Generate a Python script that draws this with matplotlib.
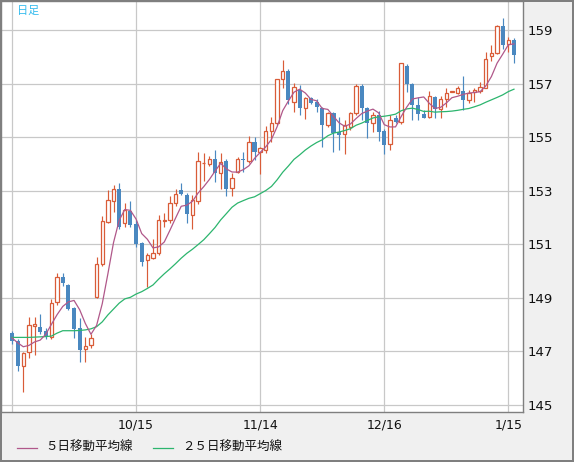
import numpy as np
import pandas as pd
import matplotlib
matplotlib.use('Agg')
import matplotlib.pyplot as plt
from matplotlib.lines import Line2D

plt.rcParams['font.family'] = ['Noto Sans CJK JP', 'DejaVu Sans']

# daily candles, 2025-09-15 .. 2026-01-16 (weekdays)
opens = [147.70, 147.40, 146.45, 146.97, 147.96, 147.90, 147.76, 147.55, 148.83, 149.77,
         149.48, 148.61, 147.86, 147.07, 147.22, 149.04, 150.25, 151.85, 152.62, 153.06,
         151.79, 152.24, 151.76, 151.04, 150.40, 150.48, 150.66, 151.88, 151.91, 152.53,
         153.03, 152.84, 152.08, 152.62, 154.04, 154.00, 154.21, 153.68, 154.11, 153.10,
         153.70, 154.18, 154.12, 154.81, 154.46, 154.53, 155.24, 155.52, 157.17, 157.48,
         156.33, 156.79, 156.08, 156.46, 156.33, 156.08, 155.46, 155.92, 155.21, 155.12,
         155.40, 155.90, 156.92, 156.08, 155.55, 155.83, 155.24, 154.74, 155.71, 155.56,
         157.67, 156.99, 156.21, 155.87, 155.75, 156.50, 156.05, 156.42, 156.70, 156.67,
         156.73, 156.39, 156.68, 156.74, 156.85, 158.05, 158.14, 159.17, 158.48, 158.64]
highs = [147.76, 147.47, 146.97, 148.29, 148.27, 148.39, 147.86, 148.95, 149.92, 149.92,
         149.53, 148.67, 148.23, 147.52, 147.65, 150.51, 152.06, 153.03, 153.23, 153.30,
         152.53, 152.62, 151.91, 151.10, 150.66, 151.20, 152.10, 152.16, 152.81, 153.07,
         153.28, 152.91, 152.85, 154.44, 154.42, 154.30, 154.53, 154.40, 154.21, 153.65,
         154.25, 154.46, 155.05, 155.00, 154.65, 155.42, 155.77, 157.20, 157.89, 157.54,
         157.02, 156.96, 156.52, 156.52, 156.42, 156.14, 155.96, 155.96, 155.77, 155.65,
         155.96, 156.98, 156.98, 156.14, 155.96, 155.98, 155.30, 155.83, 155.83, 157.80,
         157.73, 157.05, 156.52, 156.02, 156.74, 156.54, 156.54, 156.83, 156.74, 156.91,
         157.29, 156.77, 156.83, 157.08, 158.18, 158.45, 159.20, 159.45, 158.76, 158.70]
lows = [147.26, 146.26, 145.49, 146.76, 146.86, 147.65, 147.47, 147.47, 148.73, 149.44,
        148.54, 147.50, 146.61, 146.61, 147.11, 148.99, 150.20, 151.80, 152.22, 151.56,
        151.66, 151.64, 150.89, 150.19, 149.42, 150.45, 150.60, 151.66, 151.81, 152.43,
        152.85, 151.79, 151.56, 152.50, 153.35, 153.93, 153.34, 153.06, 152.82, 152.81,
        153.68, 153.71, 154.03, 154.15, 153.62, 154.42, 154.81, 155.46, 156.83, 156.24,
        155.96, 155.83, 155.67, 156.24, 155.96, 154.65, 155.40, 154.46, 154.53, 154.36,
        155.27, 155.83, 155.65, 154.96, 155.21, 154.87, 154.36, 154.53, 155.52, 155.50,
        156.70, 155.65, 155.65, 155.71, 155.72, 155.71, 155.71, 156.14, 156.68, 156.64,
        156.02, 156.29, 156.33, 156.67, 156.83, 157.85, 158.10, 158.29, 158.20, 157.79]
closes = [147.39, 146.45, 146.93, 147.97, 148.01, 147.73, 147.56, 148.79, 149.77, 149.54,
          148.58, 147.83, 147.05, 147.21, 147.51, 150.25, 151.87, 152.64, 153.06, 151.66,
          152.28, 151.71, 151.01, 150.35, 150.60, 150.66, 151.91, 151.92, 152.54, 152.88,
          152.87, 152.12, 152.64, 154.10, 154.06, 154.21, 153.68, 154.09, 153.07, 153.48,
          154.18, 154.14, 154.81, 154.46, 154.59, 155.24, 155.52, 157.17, 157.48, 156.39,
          156.89, 156.08, 156.46, 156.29, 156.12, 155.46, 155.90, 155.15, 155.09, 155.46,
          155.90, 156.92, 156.08, 155.55, 155.83, 155.21, 154.71, 155.65, 155.56, 157.77,
          156.99, 156.21, 155.86, 155.73, 156.56, 156.05, 156.42, 156.67, 156.72, 156.83,
          156.40, 156.67, 156.77, 156.87, 157.92, 158.14, 159.17, 158.45, 158.64, 158.08]

# moving-average values at the left edge (they depend on days before the window)
ma5_head = [147.50, 147.32, 147.17, 147.22]
ma25_head = [147.52, 147.52, 147.52, 147.52, 147.53, 147.54, 147.55, 147.57, 147.68, 147.77,
             147.77, 147.77, 147.78, 147.80, 147.84, 147.92, 148.10, 148.36, 148.58, 148.80,
             148.96, 149.02, 149.14, 149.23]

tick_pos = [0, 22, 44, 66, 88]
tick_labels = ['', '10/15', '11/14', '12/16', '1/15']
y_ticks = [145, 147, 149, 151, 153, 155, 157, 159]

RED = '#d95c38'
BLUE = '#4a88c0'
PINK = '#b0588a'
GREEN = '#2cb56e'
BG = '#f0f0f0'
EDGE = '#7f7f7f'

W, H = 574, 462


def main():
    o = np.array(opens)
    h = np.array(highs)
    l = np.array(lows)
    c = np.array(closes)
    x = np.arange(len(c))

    s = pd.Series(c)
    ma5 = s.rolling(5).mean().to_numpy()
    ma5[:len(ma5_head)] = ma5_head
    ma25 = s.rolling(25).mean().to_numpy()
    ma25[:len(ma25_head)] = ma25_head

    fig = plt.figure(figsize=(W / 100, H / 100), dpi=100, facecolor=BG)
    fig.patch.set_edgecolor(EDGE)
    fig.patch.set_linewidth(1.5)

    ax = fig.add_axes([1 / W, 50 / H, 522 / W, 411 / H])
    ax.set_facecolor('white')

    up = c >= o
    dn = ~up
    ax.vlines(x[up], l[up], h[up], color=RED, lw=0.85, zorder=3)
    ax.vlines(x[dn], l[dn], h[dn], color=BLUE, lw=0.85, zorder=3)
    ax.bar(x[up], np.maximum(c - o, 0.02)[up], bottom=o[up], width=0.6,
           facecolor='white', edgecolor=RED, linewidth=0.9, zorder=4)
    ax.bar(x[dn], (o - c)[dn], bottom=c[dn], width=0.72,
           color=BLUE, linewidth=0, zorder=4)

    ax.plot(x, ma25, color=GREEN, lw=0.9, zorder=5)
    ax.plot(x, ma5, color=PINK, lw=0.9, zorder=5)

    ax.set_xlim(-1.95, 90.6)
    ax.set_ylim(144.73, 160.1)

    ax.set_xticks(tick_pos, tick_labels)
    ax.set_yticks(y_ticks)
    ax.yaxis.tick_right()
    ax.tick_params(axis='x', length=0, pad=5, labelsize=9, colors='#111111')
    ax.tick_params(axis='y', length=0, pad=3, labelsize=9.5, colors='#111111')
    for lab in ax.get_xticklabels() + ax.get_yticklabels():
        lab.set_family('DejaVu Sans')

    ax.grid(True, color='#c8c8c8', linewidth=0.9, zorder=0)
    ax.set_axisbelow(True)
    for sp in ax.spines.values():
        sp.set_color(EDGE)
        sp.set_linewidth(1.0)

    fig.text(17 / W, 1 - 10.5 / H, '日足', color='#33bbee', fontsize=8, va='center')

    # legend drawn by hand along the bottom strip
    ly = 1 - 447.5 / H
    fig.add_artist(Line2D([17 / W, 37 / W], [ly, ly], color=PINK, lw=0.9))
    fig.text(45 / W, ly, '５日移動平均線', fontsize=9, va='center', color='#111111')
    fig.add_artist(Line2D([153 / W, 173 / W], [ly, ly], color=GREEN, lw=0.9))
    fig.text(182 / W, ly, '２５日移動平均線', fontsize=9, va='center', color='#111111')

    fig.savefig('out.png', dpi=100, facecolor=BG, edgecolor=EDGE)


if __name__ == '__main__':
    main()
